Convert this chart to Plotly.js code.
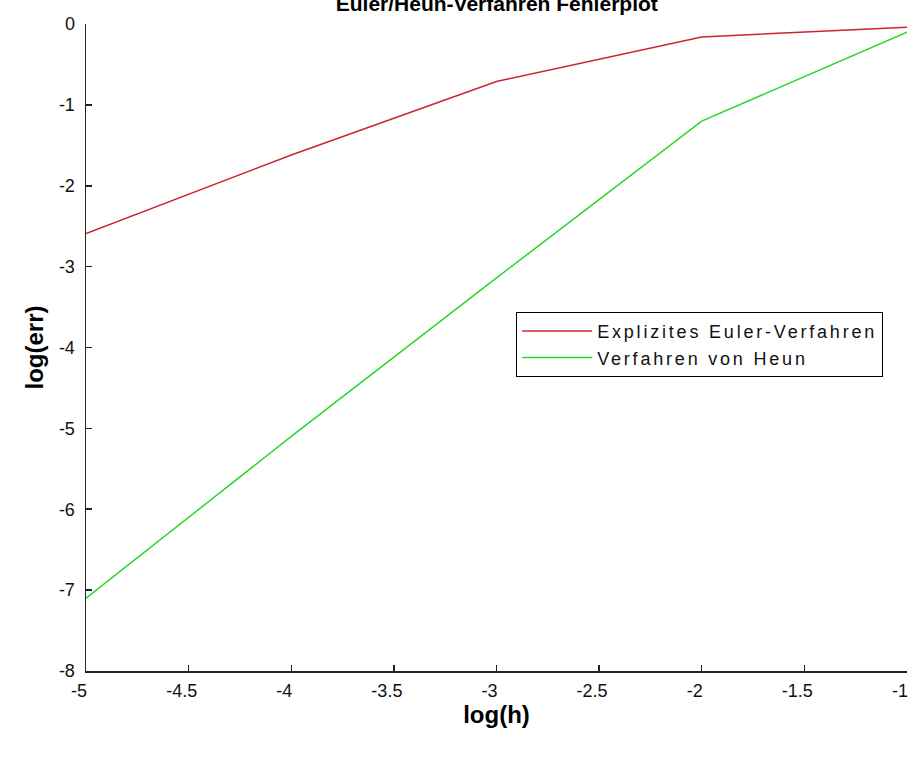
<!DOCTYPE html>
<html>
<head>
<meta charset="utf-8">
<script src="https://cdn.plot.ly/plotly-3.0.1.min.js"></script>
<style>html,body{margin:0;padding:0;background:#fff;}#chart{width:914px;height:758px;}
.legendtext{letter-spacing:2.8px;}</style>
</head>
<body>
<div id="chart"></div>
<script>
const logH = [-5, -4, -3, -2, -1];
const eulerErr = [-2.59, -1.62, -0.71, -0.16, -0.04];
const heunErr = [-7.1, -5.1, -3.14, -1.2, -0.1];
const xTickVals = [-5, -4.5, -4, -3.5, -3, -2.5, -2, -1.5, -1];
const xTickText = ['-5', '-4.5', '-4', '-3.5', '-3', '-2.5', '-2', '-1.5', '-1'];
const yTickVals = [-8, -7, -6, -5, -4, -3, -2, -1, 0];
const yTickText = ['-8', '-7', '-6', '-5', '-4', '-3', '-2', '-1', '0'];
const seriesNames = ['Explizites Euler-Verfahren', 'Verfahren von Heun'];

const font = 'Arial, "Liberation Sans", sans-serif';
const traces = [
  {x: logH, y: eulerErr, type: 'scatter', mode: 'lines', name: seriesNames[0],
   line: {color: 'rgb(205,35,50)', width: 1.5}},
  {x: logH, y: heunErr, type: 'scatter', mode: 'lines', name: seriesNames[1],
   line: {color: 'rgb(40,215,40)', width: 1.5}}
];
const layout = {
  width: 914, height: 758,
  margin: {l: 86, r: 7, t: 24, b: 87},
  paper_bgcolor: '#fff', plot_bgcolor: '#fff',
  font: {family: font, color: '#000', size: 18},
  title: {text: '<b>Euler/Heun-Verfahren Fehlerplot</b>', font: {family: font, size: 21, color: '#000'},
          x: 0.5435, xanchor: 'center', yref: 'container', y: 0.9955, yanchor: 'middle'},
  xaxis: {range: [-5.0002, -0.9998], tickvals: xTickVals, ticktext: xTickText,
          showline: true, linecolor: '#222', linewidth: 1.5, mirror: false,
          ticks: 'inside', ticklen: 6, tickcolor: '#222', tickwidth: 1.5,
          showgrid: false, zeroline: false, ticklabelstandoff: 3, ticklabelshift: -7,
          ticklabeloverflow: 'allow',
          tickfont: {size: 18, color: '#111'},
          title: {text: '<b>log(h)</b>', font: {size: 24, color: '#000'}, standoff: 1}},
  yaxis: {range: [-8.0003, 0.0003], tickvals: yTickVals, ticktext: yTickText,
          showline: true, linecolor: '#222', linewidth: 1.5, mirror: false,
          ticks: 'inside', ticklen: 6, tickcolor: '#222', tickwidth: 1.5,
          showgrid: false, zeroline: false, ticklabelstandoff: 6,
          tickfont: {size: 18, color: '#111'},
          title: {text: '<b>log(err)</b>', font: {size: 24, color: '#000'}, standoff: 8}},
  showlegend: true,
  legend: {x: 0.524, y: 0.555, xanchor: 'left', yanchor: 'top',
           bordercolor: '#000', borderwidth: 1, bgcolor: '#fff',
           font: {size: 18, color: '#111'}, itemwidth: 70, tracegroupgap: 0}
};
Plotly.newPlot('chart', traces, layout, {displayModeBar: false, staticPlot: true});
</script>
</body>
</html>
